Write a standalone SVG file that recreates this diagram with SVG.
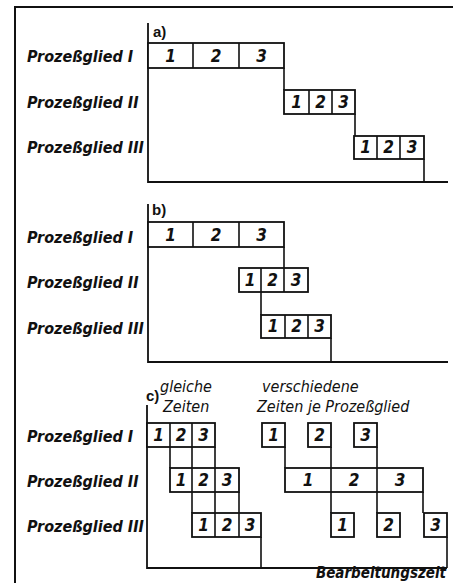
<svg xmlns="http://www.w3.org/2000/svg" width="453" height="583" viewBox="0 0 453 583">
<style>
.bg{fill:#fff}
.frame{fill:none;stroke:#111;stroke-width:2}
.ax{fill:none;stroke:#111;stroke-width:1.8}
.bx{fill:#fff;stroke:#111;stroke-width:1.8}
.ln{fill:none;stroke:#111;stroke-width:1.6}
.lbl{font-family:"DejaVu Sans Condensed","DejaVu Sans",sans-serif;font-style:italic;font-weight:bold;font-size:16px;fill:#111}
.num{font-family:"DejaVu Sans Condensed","DejaVu Sans",sans-serif;font-style:italic;font-weight:bold;font-size:17px;fill:#111;text-anchor:middle}
.sec{font-family:"Liberation Sans",sans-serif;font-weight:bold;font-size:15px;fill:#111}
.hd{font-family:"DejaVu Sans Condensed","DejaVu Sans",sans-serif;font-style:italic;font-size:16px;fill:#111}
</style>
<rect class="bg" width="453" height="583"/>
<path class="frame" d="M15,583 V7 H453"/>

<!-- a) -->
<text class="sec" x="153" y="37">a)</text>
<text class="lbl" x="27" y="62">Prozeßglied I</text>
<text class="lbl" x="27" y="108">Prozeßglied II</text>
<text class="lbl" x="27" y="153">Prozeßglied III</text>
<g id="connectors">
<path class="ax" d="M148,23 V182 H448"/>
<path class="ln" d="M284,68 V90 M355,114 V136 M424,159 V182"/>
<path class="ax" d="M148,204 V362 H448"/>
<path class="ln" d="M284,247 V268 M261,292 V315 M331,338 V362"/>
<path class="ax" d="M147,405 V568 H447"/>
<path class="ln" d="M170,447 V468 M192,447 V513 M215,447 V513 M239,492 V513 M261,537 V568"/>
<path class="ln" d="M285,447 V468 M331,447 V468 M377,447 V468 M331,492 V513 M377,492 V513 M423,492 V513 M447,537 V568"/>
</g>
<g id="a1">
<rect class="bx" x="148" y="43" width="136" height="25"/>
<path class="ln" d="M193,43 V68 M239,43 V68"/>
<text class="num" x="170.5" y="62">1</text><text class="num" x="216" y="62">2</text><text class="num" x="261.5" y="62">3</text>
</g>
<g id="a2">
<rect class="bx" x="284" y="90" width="71" height="24"/>
<path class="ln" d="M309,90 V114 M332,90 V114"/>
<text class="num" x="296.5" y="108">1</text><text class="num" x="320.5" y="108">2</text><text class="num" x="343.5" y="108">3</text>
</g>
<g id="a3">
<rect class="bx" x="354" y="136" width="70" height="23"/>
<path class="ln" d="M377,136 V159 M400,136 V159"/>
<text class="num" x="365.5" y="153">1</text><text class="num" x="388.5" y="153">2</text><text class="num" x="412" y="153">3</text>
</g>

<!-- b) -->
<text class="sec" x="152" y="215">b)</text>
<text class="lbl" x="27" y="243">Prozeßglied I</text>
<text class="lbl" x="27" y="288">Prozeßglied II</text>
<text class="lbl" x="27" y="334">Prozeßglied III</text>
<g id="b1">
<rect class="bx" x="148" y="222" width="136" height="25"/>
<path class="ln" d="M193,222 V247 M239,222 V247"/>
<text class="num" x="170.5" y="241">1</text><text class="num" x="216" y="241">2</text><text class="num" x="261.5" y="241">3</text>
</g>
<g id="b2">
<rect class="bx" x="239" y="268" width="69" height="24"/>
<path class="ln" d="M261,268 V292 M284,268 V292"/>
<text class="num" x="250" y="286">1</text><text class="num" x="272.5" y="286">2</text><text class="num" x="296" y="286">3</text>
</g>
<g id="b3">
<rect class="bx" x="261" y="315" width="70" height="23"/>
<path class="ln" d="M285,315 V338 M308,315 V338"/>
<text class="num" x="273" y="332">1</text><text class="num" x="296.5" y="332">2</text><text class="num" x="319.5" y="332">3</text>
</g>

<!-- c) -->
<text class="sec" x="146" y="401">c)</text>
<text class="hd" x="160" y="392">gleiche</text>
<text class="hd" x="163" y="412">Zeiten</text>
<text class="hd" x="262" y="392">verschiedene</text>
<text class="hd" x="257" y="412">Zeiten je Prozeßglied</text>
<text class="lbl" x="27" y="442">Prozeßglied I</text>
<text class="lbl" x="27" y="487">Prozeßglied II</text>
<text class="lbl" x="27" y="532">Prozeßglied III</text>
<g id="c1">
<rect class="bx" x="147" y="423" width="68" height="24"/>
<path class="ln" d="M170,423 V447 M192,423 V447"/>
<text class="num" x="158.5" y="441">1</text><text class="num" x="181" y="441">2</text><text class="num" x="203.5" y="441">3</text>
</g>
<g id="c2">
<rect class="bx" x="170" y="468" width="69" height="24"/>
<path class="ln" d="M192,468 V492 M215,468 V492"/>
<text class="num" x="181" y="486">1</text><text class="num" x="203.5" y="486">2</text><text class="num" x="227" y="486">3</text>
</g>
<g id="c3">
<rect class="bx" x="192" y="513" width="69" height="24"/>
<path class="ln" d="M215,513 V537 M239,513 V537"/>
<text class="num" x="203.5" y="531">1</text><text class="num" x="227" y="531">2</text><text class="num" x="250" y="531">3</text>
</g>
<g id="c4">
<rect class="bx" x="262" y="423" width="23" height="24"/><text class="num" x="273.5" y="441">1</text>
<rect class="bx" x="308" y="423" width="23" height="24"/><text class="num" x="319.5" y="441">2</text>
<rect class="bx" x="354" y="423" width="23" height="24"/><text class="num" x="365.5" y="441">3</text>
</g>
<g id="c5">
<rect class="bx" x="285" y="468" width="138" height="24"/>
<path class="ln" d="M331,468 V492 M377,468 V492"/>
<text class="num" x="308" y="486">1</text><text class="num" x="354" y="486">2</text><text class="num" x="400" y="486">3</text>
</g>
<g id="c6">
<rect class="bx" x="331" y="513" width="23" height="24"/><text class="num" x="342.5" y="531">1</text>
<rect class="bx" x="377" y="513" width="23" height="24"/><text class="num" x="388.5" y="531">2</text>
<rect class="bx" x="424" y="513" width="23" height="24"/><text class="num" x="435.5" y="531">3</text>
</g>
<text class="lbl" x="446" y="578" text-anchor="end" style="font-size:15px">Bearbeitungszeit</text>
</svg>
